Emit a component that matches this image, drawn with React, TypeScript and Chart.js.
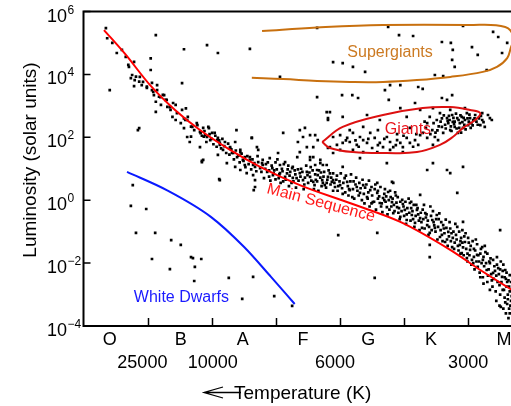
import React, { useEffect, useRef } from 'react';
import { Chart, registerables } from 'chart.js';

Chart.register(...registerables);

type P = [number, number];

// x: spectral-class position (one unit per class interval), y: log10(L / Lsun)
const xTickValues = [1, 2, 3, 4, 5, 6];
const yTickExponents = [6, 4, 2, 0, -2, -4];
const spectralClasses = ['O', 'B', 'A', 'F', 'G', 'K', 'M'];
const spectralClassX = [0.41, 1.52, 2.49, 3.43, 4.45, 5.43, 6.57];
const temperatureLabels = ['25000', '10000', '6000', '3000'];
const temperatureX = [0.92, 2.02, 3.93, 6.01];

const mainSequenceLine: P[] = [
  [0.32, 5.41], [0.65, 4.65], [1.04, 3.66], [1.43, 2.87], [1.82, 2.23], [2.29, 1.6],
  [2.76, 1.06], [3.38, 0.48], [4.16, -0.09], [4.95, -0.69], [5.73, -1.58], [6.2, -2.22],
  [6.62, -2.76], [6.9, -3.11],
];
const whiteDwarfLine: P[] = [
  [0.68, 0.9], [1.3, 0.32], [1.99, -0.53], [2.51, -1.49], [2.93, -2.44], [3.3, -3.3],
];
const giantsOutline: P[] = [
  [3.73, 1.85], [4.05, 2.33], [4.68, 2.71], [5.3, 2.93], [5.73, 2.96], [6.04, 2.87],
  [6.2, 2.77], [6.12, 2.55], [5.93, 2.3], [5.77, 2.01], [5.57, 1.76], [5.21, 1.53],
  [4.74, 1.5], [4.21, 1.53], [3.85, 1.66], [3.73, 1.85],
];
const supergiantsOutline: P[] = [
  [2.79, 5.38], [3.65, 5.49], [4.68, 5.57], [5.99, 5.57], [6.59, 5.51], [6.73, 5.16],
  [6.68, 4.87], [6.62, 4.52], [6.46, 4.24], [6.24, 4.08], [5.73, 3.92], [5.21, 3.82],
  [4.68, 3.76], [4.16, 3.76], [3.65, 3.79], [3.12, 3.85], [2.63, 3.89],
];

const mainSequenceStars: P[] = [
  [0.35, 5.47], [0.37, 5.15], [0.45, 5.0], [0.52, 4.68], [0.6, 4.78], [0.66, 4.56], [0.7, 4.3], [0.71, 4.24],
  [0.79, 4.4], [0.76, 3.98], [0.74, 3.88], [0.82, 3.93], [0.8, 3.82], [0.87, 3.77], [0.88, 3.92], [0.93, 3.76],
  [0.79, 3.63], [0.91, 3.66], [0.99, 3.61], [0.99, 3.57], [1.07, 3.73], [1.07, 3.5], [1.09, 3.44], [1.1, 3.34],
  [1.15, 3.66], [1.15, 3.5], [1.18, 3.29], [1.13, 3.13], [1.2, 3.28], [1.24, 3.35], [1.26, 3.34], [1.28, 3.19],
  [1.3, 3.19], [1.21, 3.03], [1.31, 2.97], [1.35, 2.96], [1.36, 2.87], [1.4, 3.09], [1.44, 3.03], [1.13, 2.81],
  [1.39, 2.65], [1.46, 2.77], [1.44, 2.55], [1.54, 2.87], [1.57, 2.6], [1.52, 2.45], [1.59, 2.55], [1.62, 2.55],
  [1.63, 2.65], [1.6, 2.92], [1.68, 2.34], [1.7, 2.33], [1.73, 2.23], [1.57, 2.29], [1.77, 2.45], [1.78, 2.39],
  [1.82, 2.17], [1.83, 2.13], [1.87, 2.3], [1.88, 2.02], [1.93, 2.01], [1.96, 2.29], [1.62, 2.01], [1.66, 1.85],
  [1.68, 2.02], [1.82, 1.69], [2.01, 2.14], [2.09, 1.91], [2.1, 1.44],
  [1.95, 2.33], [1.9, 2.07], [1.98, 1.91], [2.05, 2.14], [2.1, 1.98], [2.13, 1.82], [2.13, 1.76], [2.21, 1.85],
  [2.18, 1.6], [2.24, 1.18], [2.29, 1.69], [2.29, 1.66], [2.32, 1.5], [2.34, 1.5], [2.37, 1.85], [2.37, 1.06],
  [2.4, 1.37], [2.45, 1.6], [2.45, 1.53], [2.45, 0.96], [2.49, 1.28], [2.52, 1.12], [2.52, 1.37], [2.55, 0.86],
  [2.6, 1.37], [2.6, 1.28], [2.65, 1.12], [2.65, 0.8], [2.68, 1.06], [2.73, 1.6], [2.73, 1.21], [2.76, 1.02],
  [2.8, 1.28], [2.85, 1.15], [2.87, 0.9], [2.9, 0.75], [2.95, 1.02], [2.96, 0.8], [2.98, 0.95], [3.0, 1.2],
  [3.04, 1.5], [3.05, 0.7], [3.07, 0.86], [3.1, 1.0], [3.12, 0.6], [3.15, 0.74], [3.18, 0.85], [3.2, 1.1],
  [3.23, 0.9], [3.25, 0.55], [3.27, 0.71], [3.3, 0.95], [3.33, 0.7], [3.38, 0.86], [3.4, 1.0], [3.43, 0.64],
  [3.45, 0.5], [3.49, 0.9], [3.5, 0.8], [3.54, 0.74], [3.55, 1.05], [3.59, 0.58], [3.6, 0.35], [3.63, 0.65],
  [3.66, 0.8], [3.68, 0.95], [3.72, 0.45], [3.73, 0.64], [3.75, 0.75], [3.77, 0.48], [3.8, 0.55], [3.82, 0.74],
  [3.85, 0.85], [3.88, 0.58], [3.9, 0.3], [3.93, 0.42], [3.95, 0.65], [3.98, 0.45],
  [3.9, 0.64], [4.01, 0.48], [4.05, 0.2], [4.08, 0.7], [4.12, 0.58], [4.15, 0.35], [4.16, 0.32], [4.2, 0.1],
  [4.22, 0.6], [4.27, 0.42], [4.28, 0.3], [4.32, 0.23], [4.35, 0.0], [4.37, 0.48], [4.4, 0.4], [4.43, 0.1],
  [4.45, 0.25], [4.48, 0.32], [4.5, -0.1], [4.52, -0.06], [4.55, 0.35], [4.59, 0.23], [4.6, 0.05], [4.63, -0.09],
  [4.65, -0.2], [4.68, 0.07], [4.7, 0.2], [4.72, -0.05], [4.74, -0.22], [4.76, 0.26], [4.78, -0.3], [4.8, 0.1],
  [4.82, -0.06], [4.84, -0.41], [4.85, -0.15], [4.88, 0.15], [4.9, -0.22], [4.92, -0.4], [4.95, -0.53], [4.95, -0.05],
  [4.98, 0.01], [5.0, -0.2], [5.02, -0.31], [5.05, -0.63], [5.05, -0.45], [5.08, 0.05], [5.1, -0.09], [5.12, -0.25],
  [5.13, -0.47], [5.15, -0.6], [5.18, -0.72], [5.2, -0.15], [5.21, -0.31], [5.23, -0.45], [5.26, -0.57], [5.28, -0.7],
  [5.29, -0.88], [5.3, -0.3], [5.34, -0.41], [5.35, -0.55], [5.37, -0.79], [5.4, -0.85], [5.41, -1.04], [5.42, -0.2],
  [5.45, -0.63], [5.47, -0.7], [5.49, -0.88], [5.5, -1.0], [5.52, -0.47], [5.55, -0.6], [5.57, -1.17], [5.6, -1.1],
  [5.62, -0.79], [5.63, -0.9], [5.65, -1.33], [5.68, -1.25], [5.7, -1.01], [5.72, -0.7], [5.75, -1.05], [5.76, -1.49],
  [5.77, -1.2], [5.8, -1.35], [5.82, -1.1], [5.84, -0.85], [5.86, -1.6], [5.88, -1.42], [5.9, -1.2], [5.91, -1.68],
  [5.93, -1.5], [5.96, -1.33], [5.97, -1.05], [5.99, -1.84], [6.0, -1.7], [6.02, -1.35], [6.04, -1.58], [6.07, -1.9],
  [6.09, -2.0], [6.1, -1.55], [6.13, -1.25], [6.15, -1.74], [6.16, -2.12], [6.18, -1.95], [6.2, -1.7], [6.23, -1.49],
  [6.24, -1.9], [6.26, -2.1], [6.28, -1.65], [6.3, -2.22], [6.32, -2.4], [6.35, -2.0], [6.36, -1.85], [6.38, -2.55],
  [6.4, -2.31], [6.42, -2.1], [6.45, -2.4], [6.46, -1.81], [6.48, -2.16], [6.5, -2.7], [6.52, -1.95], [6.52, -3.39],
  [6.54, -2.44], [6.55, -2.25], [6.57, -2.85], [6.58, -3.1], [6.59, -2.22], [6.6, -2.5], [6.62, -2.6], [6.62, -3.3],
  [6.63, -3.0], [6.65, -2.75], [6.65, -3.45], [6.66, -2.38], [6.66, -3.6], [6.68, -3.2], [6.7, -2.4],
];

const mainSequenceDenseStars: P[] = [
  [1.85, 2.05], [1.89, 2.2], [1.92, 1.85], [1.97, 2.1], [2.0, 1.95], [2.03, 1.78], [2.06, 2.05], [2.08, 1.7],
  [2.12, 1.9], [2.15, 1.65], [2.17, 1.95], [2.2, 1.72], [2.23, 1.5], [2.26, 1.8], [2.28, 1.45], [2.31, 1.62],
  [2.35, 1.3], [2.38, 1.58], [2.42, 1.42], [2.44, 1.2], [2.47, 1.48], [2.5, 1.25], [2.53, 1.05], [2.56, 1.4],
  [2.58, 1.15], [2.62, 0.98], [2.64, 1.3], [2.67, 1.18], [2.7, 0.92], [2.72, 1.4],
  [2.78, 0.9], [2.8, 1.12], [2.82, 0.7], [2.84, 1.0], [2.88, 1.2], [2.9, 0.95], [2.92, 0.62], [2.94, 1.1],
  [2.97, 0.85], [3.0, 0.66], [3.02, 0.98], [3.03, 1.3], [3.06, 0.82], [3.08, 0.55], [3.11, 0.92], [3.13, 1.15],
  [3.16, 0.65], [3.19, 0.98], [3.21, 0.45], [3.22, 0.78], [3.26, 1.02], [3.28, 0.6], [3.31, 0.82], [3.32, 0.4],
  [3.35, 0.98], [3.36, 0.62], [3.39, 0.75], [3.42, 0.9], [3.44, 0.35], [3.46, 0.72], [3.48, 1.1], [3.51, 0.55],
  [3.53, 0.88], [3.56, 0.62], [3.58, 0.95], [3.61, 0.48], [3.62, 0.82], [3.65, 0.6], [3.67, 0.3], [3.7, 0.72],
  [3.71, 0.88], [3.74, 0.55], [3.76, 0.9], [3.79, 0.4], [3.81, 0.65], [3.83, 0.95], [3.86, 0.5], [3.87, 0.72],
  [3.9, 0.85], [3.92, 0.55],
  [3.96, 0.78], [3.97, 0.3], [4.0, 0.6], [4.02, 0.85], [4.04, 0.38], [4.06, 0.55], [4.09, 0.25], [4.1, 0.78],
  [4.13, 0.45], [4.14, 0.15], [4.17, 0.6], [4.18, 0.82], [4.21, 0.35], [4.23, 0.05], [4.25, 0.5], [4.26, 0.72],
  [4.3, 0.15], [4.31, 0.55], [4.33, 0.38], [4.36, 0.65], [4.38, 0.2], [4.39, -0.1], [4.42, 0.5], [4.44, 0.05],
  [4.46, 0.62], [4.47, -0.2], [4.5, 0.42], [4.51, 0.15], [4.54, -0.05], [4.56, 0.5], [4.57, -0.3], [4.6, 0.3],
  [4.62, 0.12], [4.64, 0.42], [4.66, -0.1], [4.67, -0.38], [4.7, 0.0], [4.71, 0.35], [4.73, 0.12], [4.75, -0.45],
  [4.77, 0.0], [4.79, 0.3], [4.81, -0.2], [4.83, 0.05], [4.86, -0.35], [4.87, 0.25], [4.89, -0.08], [4.91, 0.1],
  [4.93, -0.25], [4.94, -0.6],
  [4.97, -0.35], [4.99, -0.12], [5.01, -0.5], [5.03, -0.05], [5.04, -0.75], [5.06, -0.25], [5.09, -0.4], [5.11, -0.65],
  [5.12, -0.05], [5.14, -0.35], [5.16, -0.15], [5.17, -0.85], [5.19, -0.5], [5.22, -0.25], [5.24, -0.65], [5.25, -0.95],
  [5.27, -0.4], [5.31, -0.6], [5.32, -0.15], [5.33, -0.9], [5.36, -0.45], [5.38, -0.65], [5.39, -1.1], [5.43, -0.5],
  [5.44, -0.95], [5.46, -0.35], [5.48, -0.8], [5.51, -0.6], [5.53, -1.25], [5.54, -0.85], [5.56, -0.42], [5.58, -0.95],
  [5.59, -0.7], [5.61, -1.3], [5.64, -1.05], [5.66, -0.62], [5.67, -0.88], [5.69, -1.45], [5.71, -1.15], [5.73, -0.9],
  [5.74, -1.3], [5.78, -1.0], [5.79, -1.55], [5.81, -0.75], [5.83, -1.25], [5.85, -1.45], [5.87, -1.0], [5.89, -1.7],
  [5.89, -1.3], [5.92, -0.95],
  [5.92, -1.35], [5.94, -1.75], [5.95, -1.15], [5.98, -1.55], [6.0, -1.95], [6.01, -1.2], [6.03, -1.75], [6.05, -1.45],
  [6.06, -2.05], [6.08, -1.3], [6.1, -1.8], [6.11, -2.2], [6.12, -1.6], [6.14, -1.95], [6.15, -1.4], [6.17, -1.75],
  [6.19, -2.3], [6.21, -1.55], [6.22, -2.0], [6.24, -2.45], [6.25, -1.8], [6.27, -1.45], [6.29, -2.0], [6.31, -2.6],
  [6.31, -1.7], [6.33, -2.2], [6.34, -1.95], [6.37, -2.35], [6.39, -2.75], [6.4, -1.9], [6.41, -2.5], [6.43, -2.25],
  [6.44, -2.9], [6.46, -2.05], [6.47, -2.6], [6.49, -2.35], [6.51, -3.0], [6.51, -2.2], [6.53, -2.6], [6.55, -2.85],
  [6.56, -2.05], [6.58, -2.45], [6.59, -3.25], [6.61, -2.75], [6.61, -2.3], [6.63, -3.15], [6.64, -2.55], [6.66, -2.9],
  [6.67, -3.35], [6.68, -2.6], [6.69, -3.05], [6.7, -3.5], [6.56, -3.45], [6.6, -3.6], [6.64, -3.75], [6.45, -3.2],
  [6.5, -3.35], [6.35, -2.85], [6.25, -2.65], [6.2, -2.45],
];

const giantStars: P[] = [
  [3.9, 2.01], [4.01, 2.07], [4.12, 1.98], [4.16, 1.85], [4.21, 2.14], [4.27, 1.76], [4.32, 2.01], [4.37, 1.91],
  [4.43, 1.82], [4.48, 2.14], [4.51, 1.66], [4.55, 1.98], [4.6, 2.23], [4.63, 1.82], [4.68, 1.69], [4.74, 2.01],
  [4.79, 1.85], [4.84, 1.69], [4.9, 1.91], [4.95, 1.82], [4.99, 1.69], [5.05, 1.98], [5.1, 1.82], [5.18, 1.91],
  [5.23, 1.76], [5.3, 2.14], [5.37, 2.45], [5.41, 2.65], [5.45, 2.23], [5.49, 2.01], [5.52, 2.55], [5.57, 2.77],
  [5.6, 2.33], [5.62, 2.14], [5.68, 2.61], [5.7, 2.45], [5.73, 2.23], [5.76, 2.71], [5.77, 2.49], [5.8, 2.33],
  [5.84, 2.61], [5.85, 2.14], [5.88, 2.45], [5.91, 2.65], [5.93, 2.3], [5.96, 2.55], [5.99, 2.77], [6.01, 2.39],
  [6.04, 2.61], [6.09, 2.55], [6.12, 2.71], [6.2, 2.39], [6.23, 2.55], [6.27, 2.33], [6.35, 2.61], [5.54, 1.91],
  [5.46, 1.76], [5.37, 1.98], [5.26, 2.07], [4.05, 1.82], [3.96, 1.76], [3.85, 1.69], [4.01, 1.6], [4.21, 1.6],
  [4.37, 1.53], [4.59, 1.53], [4.79, 1.6], [4.99, 1.53], [4.16, 2.23], [4.37, 2.33], [4.63, 2.55], [5.05, 2.65],
  [5.26, 2.87], [5.46, 2.93], [5.73, 2.87], [5.96, 2.93], [5.65, 2.4], [5.72, 2.55], [5.8, 2.5], [5.87, 2.3],
  [5.95, 2.4], [6.0, 2.6], [6.06, 2.45], [6.14, 2.5], [5.75, 2.2], [5.9, 2.15], [5.55, 2.35], [5.6, 2.6],
  [5.82, 2.75], [6.05, 2.3], [6.18, 2.6], [5.5, 2.15], [5.35, 2.3], [5.2, 2.1], [4.7, 1.95], [4.45, 1.95],
  [4.25, 1.9], [4.88, 1.75], [5.0, 2.05], [5.15, 1.7],
  [5.58, 2.5], [5.63, 2.7], [5.66, 2.28], [5.69, 2.52], [5.71, 2.68], [5.74, 2.35], [5.78, 2.62], [5.79, 2.42],
  [5.83, 2.28], [5.86, 2.55], [5.89, 2.7], [5.92, 2.48], [5.94, 2.62], [5.97, 2.25], [6.02, 2.5], [6.03, 2.72],
  [6.08, 2.38], [6.11, 2.6], [6.16, 2.4], [6.21, 2.68], [6.25, 2.48], [5.53, 2.22], [5.47, 2.45], [5.42, 2.1],
  [5.33, 2.5], [5.1, 2.3], [4.9, 2.1], [4.6, 1.75], [4.3, 1.7], [4.1, 1.9],
];

const supergiantStars: P[] = [
  [4.76, 5.51], [5.93, 5.54], [6.4, 5.35], [6.48, 5.19], [4.93, 5.25], [5.15, 5.22], [5.74, 5.0], [6.07, 4.87],
  [5.77, 4.78], [6.54, 4.68], [6.16, 4.62], [3.9, 4.39], [4.05, 4.36], [5.76, 4.46], [5.8, 4.24], [4.4, 4.08],
  [4.21, 4.24], [5.49, 3.98], [5.62, 3.95], [6.3, 4.14], [3.65, 5.48], [5.6, 5.03], [6.62, 5.0],
];

const fieldStars: P[] = [
  [1.13, 5.25], [1.57, 4.8], [1.93, 4.93], [2.1, 4.68], [2.6, 4.81], [1.05, 4.51], [1.05, 4.14], [0.41, 3.5],
  [1.54, 3.72], [3.07, 3.92], [0.87, 2.29], [0.85, 2.23], [2.39, 2.23], [1.85, 1.25], [2.13, 0.64], [2.68, 0.64],
  [2.68, 0.42], [2.66, 0.32], [3.65, 3.28], [4.04, 3.34], [4.2, 3.34], [4.29, 3.25], [4.71, 3.5], [4.79, 3.66],
  [5.23, 3.6], [5.3, 3.54], [4.95, 3.66], [4.77, 3.19], [5.18, 3.09], [5.6, 3.25], [5.68, 3.19], [5.76, 3.34],
  [4.95, 2.93], [4.43, 2.71], [3.85, 2.8], [4.05, 2.65], [3.82, 2.55], [6.32, 2.71], [6.38, 2.55], [6.23, 2.77],
  [3.46, 2.3], [3.54, 2.07], [3.59, 1.69], [3.66, 1.91], [3.54, 1.37], [3.7, 1.28], [3.8, 1.12], [3.9, 1.5],
  [4.74, 1.18], [4.32, 1.34], [5.46, 1.18], [5.93, 1.06], [4.05, 1.06], [3.12, 2.14], [3.43, 2.01], [3.38, 1.53],
  [3.34, 1.37], [3.82, 1.66], [2.71, 1.69], [2.63, 1.98], [2.79, 1.18], [2.91, 1.34], [3.15, 1.21], [3.07, 1.12],
  [3.27, 1.06], [3.62, 1.12], [3.74, 1.12], [5.68, 0.96], [5.73, 0.86], [4.84, 0.55], [4.59, 0.55], [3.82, 2.61],
  [3.8, 2.8], [3.38, 2.23], [3.49, 1.69], [3.7, 1.18], [3.65, 0.96], [1.87, 1.28], [3.54, 1.28], [3.59, 1.37],
  [3.62, 2.07], [3.35, 1.85], [2.63, 1.98], [4.55, -2.47], [5.84, 0.23], [5.26, 0.17], [5.93, -0.69], [6.51, -0.95],
  [4.82, 0.58], [5.37, 0.96], [3.98, -1.11], [4.59, -1.04], [5.41, -1.42], [5.41, -1.81],
];

const whiteDwarfRegionStars: P[] = [
  [0.77, 0.48], [0.74, -0.18], [0.98, -0.28], [0.82, -1.04], [1.12, -1.04], [1.37, -1.27], [1.52, -1.42],
  [1.07, -1.87], [1.68, -1.81], [1.71, -1.84], [1.84, -1.87], [1.74, -2.12], [1.35, -2.19], [1.73, -2.57],
  [2.27, -2.47], [2.65, -2.44], [2.48, -3.14], [2.98, -3.05], [3.26, -3.36], [1.85, 1.21], [2.12, 0.67],
];

const regionLabels = [
  { text: 'Supergiants', x: 4.79, y: 4.68, color: '#cc7a22', angle: 0 },
  { text: 'Giants', x: 5.07, y: 2.23, color: '#e8141c', angle: 0 },
  { text: 'Main Sequence', x: 3.71, y: -0.09, color: '#ff1a1a', angle: 15 },
  { text: 'White Dwarfs', x: 1.53, y: -3.11, color: '#1a1aff', angle: 0 },
];

const FONT = '"Liberation Sans", Arial, Helvetica, sans-serif';

const decorPlugin = {
  id: 'hrDecor',
  afterDatasetsDraw(chart: any) {
    const { ctx, scales } = chart;
    const xs = scales.x;
    const ys = scales.y;
    ctx.save();
    ctx.font = `16px ${FONT}`;
    ctx.textAlign = 'center';
    ctx.textBaseline = 'middle';
    for (const l of regionLabels) {
      ctx.save();
      ctx.translate(xs.getPixelForValue(l.x), ys.getPixelForValue(l.y));
      ctx.rotate((l.angle * Math.PI) / 180);
      ctx.fillStyle = l.color;
      ctx.fillText(l.text, 0, 0);
      ctx.restore();
    }
    ctx.restore();
  },
  afterDraw(chart: any) {
    const { ctx, chartArea: a, scales } = chart;
    const xs = scales.x;
    const ys = scales.y;
    ctx.save();
    ctx.strokeStyle = '#000';
    ctx.fillStyle = '#000';
    ctx.lineWidth = 2;
    ctx.beginPath();
    ctx.moveTo(a.right + 20, a.top);
    ctx.lineTo(a.left, a.top);
    ctx.lineTo(a.left, a.bottom);
    ctx.lineTo(a.right + 20, a.bottom);
    ctx.stroke();
    ctx.lineWidth = 1.5;
    ctx.beginPath();
    for (const v of xTickValues) {
      const px = Math.round(xs.getPixelForValue(v)) + 0.5;
      ctx.moveTo(px, a.bottom);
      ctx.lineTo(px, a.bottom - 8);
    }
    for (const e of yTickExponents) {
      const py = ys.getPixelForValue(e);
      ctx.moveTo(a.left, py);
      ctx.lineTo(a.left + 7, py);
    }
    ctx.stroke();
    ctx.textBaseline = 'alphabetic';
    ctx.textAlign = 'left';
    for (const e of yTickExponents) {
      const py = ys.getPixelForValue(e);
      ctx.font = `18px ${FONT}`;
      ctx.fillText('10', 47, py + 10);
      ctx.font = `12px ${FONT}`;
      ctx.fillText(e < 0 ? '\u2212' + String(-e) : String(e), 67.5, py + 2);
    }
    ctx.textAlign = 'center';
    ctx.textBaseline = 'middle';
    ctx.font = `18px ${FONT}`;
    spectralClasses.forEach((c, i) => {
      ctx.fillText(c, xs.getPixelForValue(spectralClassX[i]), 340);
    });
    temperatureLabels.forEach((t, i) => {
      ctx.fillText(t, xs.getPixelForValue(temperatureX[i]), 363);
    });
    ctx.font = `19px ${FONT}`;
    ctx.textAlign = 'left';
    ctx.textBaseline = 'alphabetic';
    ctx.fillText('Temperature (K)', 234, 399);
    ctx.lineWidth = 1.3;
    ctx.beginPath();
    ctx.moveTo(241, 392.5);
    ctx.lineTo(204, 392.5);
    ctx.moveTo(223, 387);
    ctx.lineTo(204, 392.5);
    ctx.lineTo(223, 398);
    ctx.stroke();
    ctx.save();
    ctx.translate(31, 160);
    ctx.rotate(-Math.PI / 2);
    ctx.textAlign = 'center';
    ctx.textBaseline = 'middle';
    ctx.font = `19px ${FONT}`;
    ctx.fillText('Luminosity (solar units)', 0, 0);
    ctx.restore();
    ctx.restore();
  },
};

export default function App() {
  const ref = useRef<HTMLCanvasElement>(null);
  useEffect(() => {
    const canvas = ref.current;
    if (!canvas) return;
    const toXY = (arr: P[]) => arr.map(([x, y]) => ({ x, y }));
    const stars = [
      ...mainSequenceStars,
      ...mainSequenceDenseStars,
      ...giantStars,
      ...supergiantStars,
      ...fieldStars,
      ...whiteDwarfRegionStars,
    ];
    const lineDs = (label: string, pts: P[], color: string, mono: boolean) => ({
      label,
      data: toXY(pts),
      showLine: true,
      borderColor: color,
      borderWidth: 2,
      pointRadius: 0,
      fill: false,
      tension: 0.4,
      cubicInterpolationMode: mono ? 'monotone' : 'default',
      order: 0,
    });
    const chart = new Chart(canvas, {
      type: 'scatter',
      data: {
        datasets: [
          lineDs('Main Sequence', mainSequenceLine, '#ff0000', true),
          lineDs('White Dwarfs', whiteDwarfLine, '#0a1aff', true),
          lineDs('Giants', giantsOutline, '#dd1010', false),
          lineDs('Supergiants', supergiantsOutline, '#c8700f', false),
          {
            label: 'Stars',
            data: toXY(stars),
            pointStyle: 'rect',
            pointRadius: 1.9,
            pointBorderWidth: 0,
            borderWidth: 0,
            backgroundColor: '#000',
            pointBackgroundColor: '#000',
            order: 1,
          },
        ] as any,
      },
      options: {
        animation: false,
        responsive: false,
        events: [],
        layout: { padding: { left: 83.5, right: 8.5, top: 11.5, bottom: 80 } },
        scales: {
          x: { type: 'linear', min: 0, max: 7, display: false },
          y: { type: 'linear', min: -4, max: 6, display: false },
        },
        plugins: { legend: { display: false }, tooltip: { enabled: false } },
      },
      plugins: [decorPlugin],
    } as any);
    return () => chart.destroy();
  }, []);
  return (
    <div
      style={{
        position: 'fixed',
        left: 0,
        top: 0,
        width: 511,
        height: 406,
        overflow: 'hidden',
        background: '#fff',
      }}
    >
      <canvas ref={ref} width={540} height={406} style={{ width: 540, height: 406, display: 'block' }} />
    </div>
  );
}
